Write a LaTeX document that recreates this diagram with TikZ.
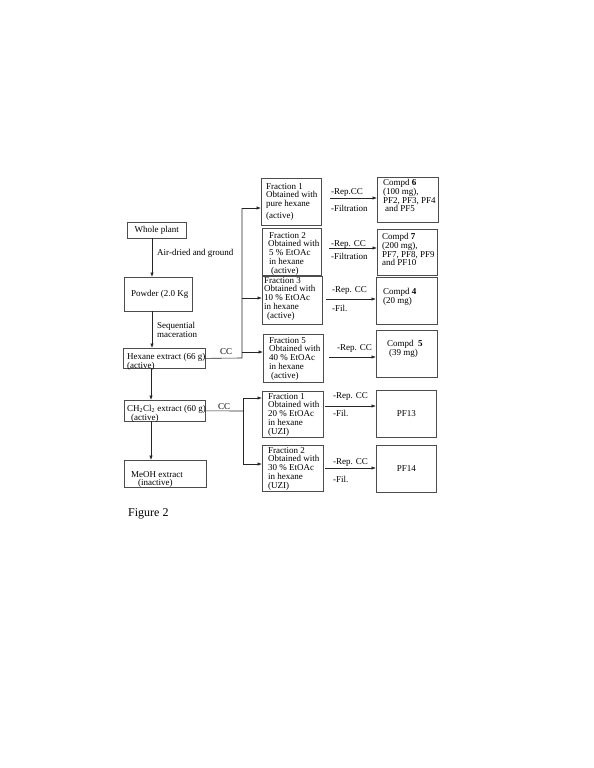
\documentclass[tikz,border=0pt]{standalone}
\usepackage{fontspec}
\setmainfont{Liberation Serif}
\usetikzlibrary{arrows.meta}
\newcommand{\bx}[5]{\node[box,anchor=north west,minimum width={#4-#2},minimum height={#5-#3}] (#1) at (#2,#3) {};}
\begin{document}
\begin{tikzpicture}[x=1pt,y=-1pt,
  box/.style={draw=black!70, line width=0.7pt, inner sep=0pt},
  txt/.style={inner sep=0pt, font=\fontsize{9}{8.8}\selectfont, align=left, anchor=north west},
  lbl/.style={inner sep=0pt, font=\fontsize{9}{8.8}\selectfont, anchor=west},
  conn/.style={draw=black!85, line width=0.6pt},
  arr/.style={conn, -{Latex[length=4.5pt,width=3.4pt]}}]
\useasboundingbox (0,0) rectangle (594,768);
% left column boxes
\bx{whole}{127}{222}{186}{238}
\bx{powder}{124}{277}{192}{311}
\bx{hex}{123}{348}{205}{368}
\bx{dcm}{124}{400}{205}{421}
\bx{meoh}{124}{460}{206}{487}
% fraction boxes
\bx{fa1}{261}{178}{321}{225}
\bx{fa2}{262}{228}{321}{275}
\bx{fa3}{262}{276}{322}{324}
\bx{fa5}{263}{334}{323}{382}
\bx{fb1}{262}{391}{323}{437}
\bx{fb2}{262}{445}{323}{491}
% compound boxes
\bx{c6}{377}{177}{438}{222}
\bx{c7}{377}{229}{437}{275}
\bx{c4}{376}{277}{437}{324}
\bx{c5}{376}{330}{437}{377}
\bx{pf13}{376}{390}{436}{437}
\bx{pf14}{376}{445}{436}{492}
% left texts
\node[lbl,anchor=center] (twhole) at (whole) {Whole plant};
\node[lbl] (tair) at (157,253) {Air-dried and ground};
\node[lbl] (tpow) at (131,294) {Powder (2.0 Kg};
\node[txt] (tseq) at (157,322) {Sequential\\maceration};
\node[txt] (thex) at (127,353) {Hexane extract (66 g)\\(active)};
\node[lbl] (tcc1) at (220,352) {CC};
\node[txt] (tdcm) at (127,405) {CH\textsubscript{2}Cl\textsubscript{2} extract (60 g)\\\hspace{4pt}(active)};
\node[lbl] (tcc2) at (218,407) {CC};
\node[txt] (tmeoh) at (131,471) {MeOH extract\\\hspace{7pt}(inactive)};
\node[inner sep=0pt, anchor=west, font=\fontsize{12}{14}\selectfont] (tfig) at (128,514) {Figure 2};
% fraction texts
\node[txt] (tfa1) at (266,183) {Fraction 1\\Obtained with\\pure hexane\\[3pt](active)};
\node[txt] (tfa2) at (268,232) {\hspace{1pt}Fraction 2\\Obtained with\\\hspace{1pt}5 \% EtOAc\\\hspace{1pt}in hexane\\\hspace{3pt}(active)};
\node[txt] (tfa3) at (264,277) {Fraction 3\\Obtained with\\10 \% EtOAc\\in hexane\\\hspace{3pt}(active)};
\node[txt] (tfa5) at (269,337) {Fraction 5\\Obtained with\\40 \% EtOAc\\in hexane\\\hspace{2pt}(active)};
\node[txt] (tfb1) at (268,393) {Fraction 1\\Obtained with\\20 \% EtOAc\\in hexane\\(UZI)};
\node[txt] (tfb2) at (268,447) {Fraction 2\\Obtained with\\30 \% EtOAc\\in hexane\\(UZI)};
% compound texts
\node[txt] (tc6) at (383,179) {Compd \textbf{6}\\(100 mg),\\PF2, PF3, PF4\\\hspace{2pt}and PF5};
\node[txt] (tc7) at (382,233) {Compd \textbf{7}\\(200 mg),\\PF7, PF8, PF9\\and PF10};
\node[txt] (tc4) at (383,288) {Compd \textbf{4}\\(20 mg)};
\node[txt] (tc5) at (387,340) {Compd\ \ \textbf{5}\\\hspace{2pt}(39 mg)};
\node[lbl,anchor=center] (tpf13) at (pf13) {PF13};
\node[lbl,anchor=center] (tpf14) at (pf14) {PF14};
% arrow labels
\node[lbl] (r1) at (331,192) {-Rep.CC};
\node[lbl] (f1) at (331,208) {-Filtration};
\node[lbl] (r2) at (331,244) {-Rep. CC};
\node[lbl] (f2) at (331,256) {-Filtration};
\node[lbl] (r3) at (332,290) {-Rep. CC};
\node[lbl] (f3) at (332,308) {-Fil.};
\node[lbl] (r5) at (337,348) {-Rep. CC};
\node[lbl] (rb1) at (333,396) {-Rep. CC};
\node[lbl] (fb1l) at (333,413) {-Fil.};
\node[lbl] (rb2) at (333,462) {-Rep. CC};
\node[lbl] (fb2l) at (333,479) {-Fil.};
% vertical arrows
\coordinate (v1) at (152,238);
\coordinate (v2) at (152,311);
\coordinate (v3) at (151,368);
\coordinate (v4) at (151,421);
\draw[arr] (v1) -- (v1 |- powder.north);
\draw[arr] (v2) -- (v2 |- hex.north);
\draw[arr] (v3) -- (v3 |- dcm.north);
\draw[arr] (v4) -- (v4 |- meoh.north);
% hexane branch
\coordinate (j1) at (242,358);
\coordinate (jt) at (242,208);
\coordinate (j3) at (242,298);
\coordinate (j5) at (242,352);
\draw[conn] (hex.east) -- (j1) -- (jt);
\draw[arr] (jt) -- (fa1.west |- jt);
\draw[arr] (j3) -- (fa3.west |- j3);
\draw[arr] (j5) -- (fa5.west |- j5);
% CH2Cl2 branch
\coordinate (k) at (243,411);
\coordinate (kt) at (243,398);
\coordinate (kb) at (243,464);
\draw[conn] (dcm.east) -- (k);
\draw[conn] (kt) -- (kb);
\draw[arr] (kt) -- (fb1.west |- kt);
\draw[arr] (kb) -- (fb2.west |- kb);
% fraction -> compound arrows
\coordinate (s1) at (330,198);
\coordinate (s2) at (329,248);
\coordinate (s3) at (326,299);
\coordinate (s5) at (329,357);
\coordinate (s6) at (325,406);
\coordinate (s7) at (325,468);
\draw[arr] (s1) -- (c6.west |- s1);
\draw[arr] (s2) -- (c7.west |- s2);
\draw[arr] (s3) -- (c4.west |- s3);
\draw[arr] (s5) -- (c5.west |- s5);
\draw[arr] (s6) -- (pf13.west |- s6);
\draw[arr] (s7) -- (pf14.west |- s7);
\end{tikzpicture}
\end{document}
